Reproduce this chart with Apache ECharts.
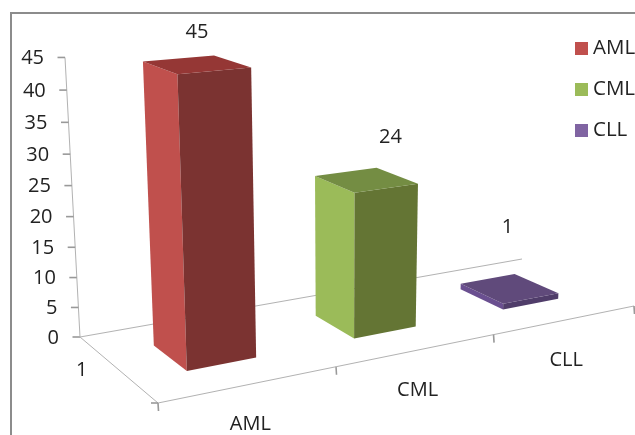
<!DOCTYPE html>
<html>
<head>
<meta charset="utf-8">
<style>html,body{margin:0;padding:0;background:#fff}#chart{width:635px;height:435px}</style>
<script src="https://cdn.jsdelivr.net/npm/echarts@6/dist/echarts.min.js"></script>
</head>
<body>
<div id="chart"></div>
<script>
// Leukaemia case counts by type
const categories = ['AML', 'CML', 'CLL'];
const caseCounts = [45, 24, 1];
const valueTicks = [0, 5, 10, 15, 20, 25, 30, 35, 40, 45];
const depthLabel = '1';

// Legend swatches, and shades for the three visible faces of each column
const legendColors = ['#C0504D', '#9BBB59', '#8064A2'];
const sideColors = ['#C0504D', '#9BBB59', '#6A4F90'];
const frontColors = ['#7B3331', '#647534', '#503D6A'];
const topColors = ['#953735', '#748D43', '#604A7B'];

// Offsets of the value labels from the centre of each column's top
const valueLabelNudge = [[0.5, -32], [24.5, -43], [-1.5, -61]];

const TEXT = '#222';
const AXIS = '#b2b2b2';
const TICK = '#999';
const FONT = '20px "Open Sans", sans-serif';

// Corners of the floor on the page, and where the uprights converge
const floor = [[80, 337], [522, 259], [634, 306], [158, 403]];
const verticalVanish = [339, 5168];
const risePerspective = -0.0547;

// Projective map from (across, depth, height), each 0..1, to the page
const project = (function () {
  const [p0, p1, p2, p3] = floor;
  const dx1 = p1[0] - p2[0], dx2 = p3[0] - p2[0], sx = p0[0] - p1[0] + p2[0] - p3[0];
  const dy1 = p1[1] - p2[1], dy2 = p3[1] - p2[1], sy = p0[1] - p1[1] + p2[1] - p3[1];
  const den = dx1 * dy2 - dx2 * dy1;
  const g = (sx * dy2 - dx2 * sy) / den;
  const h = (dx1 * sy - sx * dy1) / den;
  const a = p1[0] - p0[0] + g * p1[0], b = p3[0] - p0[0] + h * p3[0];
  const d = p1[1] - p0[1] + g * p1[1], e = p3[1] - p0[1] + h * p3[1];
  const k = risePerspective;
  return function (u, v, w) {
    const q = g * u + h * v + k * w + 1;
    return [
      (a * u + b * v + verticalVanish[0] * k * w + p0[0]) / q,
      (d * u + e * v + verticalVanish[1] * k * w + p0[1]) / q
    ];
  };
})();

// Read a data point through the (hidden) cartesian axes as 0..1 fractions
function fractions(params, api, cat, val) {
  const cs = params.coordSys;
  const c = api.coord([cat, val]);
  return {
    u: (c[0] - cs.x) / cs.width,
    w: (cs.y + cs.height - c[1]) / cs.height,
    band: api.size([1, 0])[0] / cs.width
  };
}

function label(text, x, y, align) {
  return {
    type: 'text',
    style: { text: text, x: x, y: y, fill: TEXT, font: FONT, align: align || 'center', verticalAlign: 'middle' }
  };
}

function stroke(a, b, color, width) {
  return {
    type: 'line',
    shape: { x1: a[0], y1: a[1], x2: b[0], y2: b[1] },
    style: { stroke: color || AXIS, lineWidth: width || 1 }
  };
}

// Value axis: slanted rule, ticks and numbers
function renderValueTick(params, api) {
  const f = fractions(params, api, 0, api.value(1));
  const p = project(0, 0, f.w);
  const kids = [stroke([p[0] - 7.5, p[1]], p, TICK, 1.6), label(String(api.value(1)), p[0] - 21, p[1] + 1, 'right')];
  if (params.dataIndex === 0) kids.push(stroke(project(0, 0, 0), project(0, 0, 1)));
  return { type: 'group', children: kids };
}

// Floor rules, category ticks and category names
function renderFloor(params, api) {
  const i = api.value(0);
  const f = fractions(params, api, i, 0);
  const centre = project(f.u, 1, 0);
  const right = project(f.u + f.band / 2, 1, 0);
  const kids = [
    label(categories[i], centre[0] + 0.5, centre[1] + 40.5),
    stroke(right, [right[0] + 0.5, right[1] + 8], TICK, 1.6)
  ];
  if (i === 0) {
    const back = project(0, 0, 0), corner = project(0, 1, 0), mid = project(0, 0.5, 0);
    kids.push(
      stroke(back, project(1, 0, 0)),
      stroke(back, corner),
      stroke(corner, project(1, 1, 0)),
      stroke([corner[0] - 7, corner[1]], corner, TICK, 1.6),
      stroke(corner, [corner[0] + 0.5, corner[1] + 8], TICK, 1.6),
      label(depthLabel, mid[0] - 35, mid[1] + 2)
    );
  }
  return { type: 'group', children: kids };
}

// One column: side, front and top faces, then its value label
function renderColumn(params, api) {
  const i = api.value(0);
  const val = api.value(1);
  const f = fractions(params, api, i, val);
  const half = f.band * 0.2;
  const u0 = f.u - half, u1 = f.u + half;
  const v0 = 0.3, v1 = 0.7;
  const poly = (pts, fill) => ({
    type: 'polygon',
    shape: { points: pts.map(q => project(q[0], q[1], q[2])) },
    style: { fill: fill }
  });
  const c = project(f.u, 0.5, f.w);
  const nudge = valueLabelNudge[i];
  return {
    type: 'group',
    children: [
      poly([[u0, v0, 0], [u0, v1, 0], [u0, v1, f.w], [u0, v0, f.w]], sideColors[i]),
      poly([[u0, v1, 0], [u1, v1, 0], [u1, v1, f.w], [u0, v1, f.w]], frontColors[i]),
      poly([[u0, v0, f.w], [u1, v0, f.w], [u1, v1, f.w], [u0, v1, f.w]], topColors[i]),
      label(String(val), c[0] + nudge[0], c[1] + nudge[1])
    ]
  };
}

const chart = echarts.init(document.getElementById('chart'), null, { renderer: 'canvas' });

chart.setOption({
  animation: false,
  backgroundColor: '#fff',
  grid: { left: 0, top: 0, width: 635, height: 435 },
  xAxis: { type: 'category', data: categories, show: false },
  yAxis: { type: 'value', min: 0, max: 45, interval: 5, show: false },
  legend: {
    orient: 'vertical',
    left: 575,
    top: 38,
    icon: 'rect',
    itemWidth: 13,
    itemHeight: 13,
    itemGap: 20,
    selectedMode: false,
    padding: 0,
    data: categories,
    textStyle: { color: TEXT, fontFamily: '"Open Sans", sans-serif', fontSize: 20.5, padding: [0, 0, 0, 0] }
  },
  graphic: [{
    type: 'rect',
    silent: true,
    z: -1,
    shape: { x: 11, y: 13, width: 800, height: 600 },
    style: { fill: 'none', stroke: '#8c8c8c', lineWidth: 2 }
  }],
  series: [
    {
      type: 'custom',
      name: 'floor',
      renderItem: renderFloor,
      silent: true,
      data: categories.map((c, i) => [i, 0]),
      encode: { x: 0, y: 1 }
    },
    {
      type: 'custom',
      name: 'value axis',
      renderItem: renderValueTick,
      silent: true,
      data: valueTicks.map(t => [0, t]),
      encode: { x: 0, y: 1 }
    }
  ].concat(categories.map((name, i) => ({
    type: 'custom',
    name: name,
    renderItem: renderColumn,
    silent: true,
    itemStyle: { color: legendColors[i] },
    data: [[i, caseCounts[i]]],
    encode: { x: 0, y: 1 }
  })))
});
</script>
</body>
</html>
